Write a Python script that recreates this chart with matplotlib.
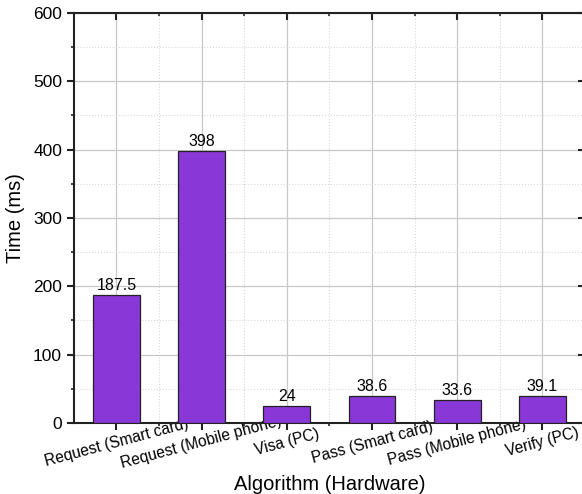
import matplotlib
matplotlib.use("Agg")
import matplotlib.pyplot as plt
import numpy as np
from matplotlib.ticker import MultipleLocator

plt.rcParams['font.family'] = ['Liberation Sans', 'DejaVu Sans']

# data
categories = ["Request (Smart card)", "Request (Mobile phone)", "Visa (PC)",
              "Pass (Smart card)", "Pass (Mobile phone)", "Verify (PC)"]
times = [187.5, 398, 24, 38.6, 33.6, 39.1]
value_labels = ["187.5", "398", "24", "38.6", "33.6", "39.1"]

fig = plt.figure(figsize=(5.82, 4.94), dpi=100)
ax = fig.add_axes([0.127, 0.144, 0.878, 0.830])

x = np.arange(len(categories))
bars = ax.bar(x, times, width=0.55, color="#8a37d8", edgecolor="#222222",
              linewidth=0.9, zorder=3)

for b, lab in zip(bars, value_labels):
    ax.text(b.get_x() + b.get_width() / 2, b.get_height() + 3, lab,
            ha="center", va="bottom", fontsize=11.5, zorder=4)

ax.set_xlim(-0.5, len(categories) - 0.5)
ax.set_ylim(0, 600)
ax.yaxis.set_major_locator(MultipleLocator(100))
ax.yaxis.set_minor_locator(MultipleLocator(50))
ax.set_xticks(x)
ax.set_xticks(x[:-1] + 0.5, minor=True)
ax.set_xticklabels(categories, rotation=15, ha="center", va="center",
                   rotation_mode="anchor", fontsize=11.2)

# grid: solid major, dotted minor
ax.grid(which="major", color="#c8c8c8", linewidth=0.9, linestyle="-", zorder=0)
ax.grid(which="minor", color="#d8d8d8", linewidth=0.8, linestyle=":", zorder=0)
ax.set_axisbelow(True)

ax.tick_params(axis="both", which="major", labelsize=12.5, length=5, width=1.5,
               color="#222222")
ax.tick_params(axis="x", which="major", labelsize=11.2, pad=9)
ax.tick_params(axis="both", which="minor", length=2.5, width=1.2, color="#222222")
ax.tick_params(top=True, right=True, which="both")
# top and right ticks point inward
for t in ax.xaxis.get_major_ticks() + ax.xaxis.get_minor_ticks():
    t.tick2line.set_marker(3)
for t in ax.yaxis.get_major_ticks() + ax.yaxis.get_minor_ticks():
    t.tick2line.set_marker(0)

for s in ax.spines.values():
    s.set_linewidth(1.5)
    s.set_color("#222222")

ax.set_xlabel("Algorithm (Hardware)", fontsize=14.5, labelpad=3)
ax.set_ylabel("Time (ms)", fontsize=14.5, labelpad=6)

fig.savefig("out.png", dpi=100)
